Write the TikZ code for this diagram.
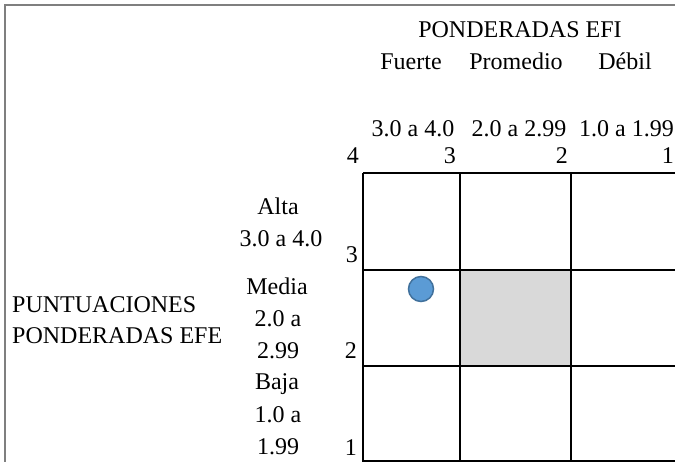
\documentclass[tikz,border=0pt]{standalone}
\usepackage{fontspec}
\setmainfont{Liberation Serif}
\definecolor{dotfill}{HTML}{5B9BD5}
\definecolor{dotline}{HTML}{41719C}
\definecolor{cellgray}{HTML}{D9D9D9}
\definecolor{framegray}{HTML}{7F7F7F}
\begin{document}
\begin{tikzpicture}[x=1pt,y=-1pt,
  lbl/.style={inner sep=0pt,font=\fontsize{24}{28}\selectfont},
  ctr/.style={lbl,anchor=base},
  rgt/.style={lbl,anchor=base east},
  lft/.style={lbl,anchor=base west},
  gridline/.style={line width=1.6pt,black}]
\useasboundingbox (0,0) rectangle (675,462);
% outer frame (cropped)
\draw[framegray,line width=1.8pt] (5,463) -- (5,5) -- (676,5);
% shaded cell
\fill[cellgray] (460,270) rectangle (571,366);
% grid
\foreach \y in {173,270,366,461} \draw[gridline] (363,\y) -- (676,\y);
\foreach \x in {363,460,571} \draw[gridline] (\x,173) -- (\x,462);
% dot
\node[circle,fill=dotfill,draw=dotline,line width=1.5pt,minimum size=25pt,inner sep=0pt] (dot) at (421,289) {};
% top header
\node[ctr] (efi) at (520,38) {PONDERADAS EFI};
\node[ctr] (fuerte) at (411,70) {Fuerte};
\node[ctr] (promedio) at (516,70) {Promedio};
\node[ctr] (debil) at (625,70) {Débil};
\node[ctr] (r1) at (413,137) {3.0 a 4.0};
\node[ctr] (r2) at (519,137) {2.0 a 2.99};
\node[rgt] (r3) at (674,137) {1.0 a 1.99};
\node[rgt] (c4) at (359,164) {4};
\node[rgt] (c3) at (456,164) {3};
\node[rgt] (c2) at (568,164) {2};
\node[rgt] (c1) at (674,164) {1};
% left header
\node[lft] (punt) at (12,313) {PUNTUACIONES};
\node[lft] (pond) at (12,344) {PONDERADAS EFE};
\node[ctr] (alta) at (278,215) {Alta};
\node[ctr] (alta2) at (281,247) {3.0 a 4.0};
\node[ctr] (media) at (277,295) {Media};
\node[ctr] (media2) at (278,327) {2.0 a};
\node[ctr] (media3) at (278,359) {2.99};
\node[ctr] (baja) at (277,390) {Baja};
\node[ctr] (baja2) at (278,422) {1.0 a};
\node[ctr] (baja3) at (278,454) {1.99};
\node[rgt] (l3) at (358,263) {3};
\node[rgt] (l2) at (357,359) {2};
\node[rgt] (l1) at (357,455) {1};
\end{tikzpicture}
\end{document}
